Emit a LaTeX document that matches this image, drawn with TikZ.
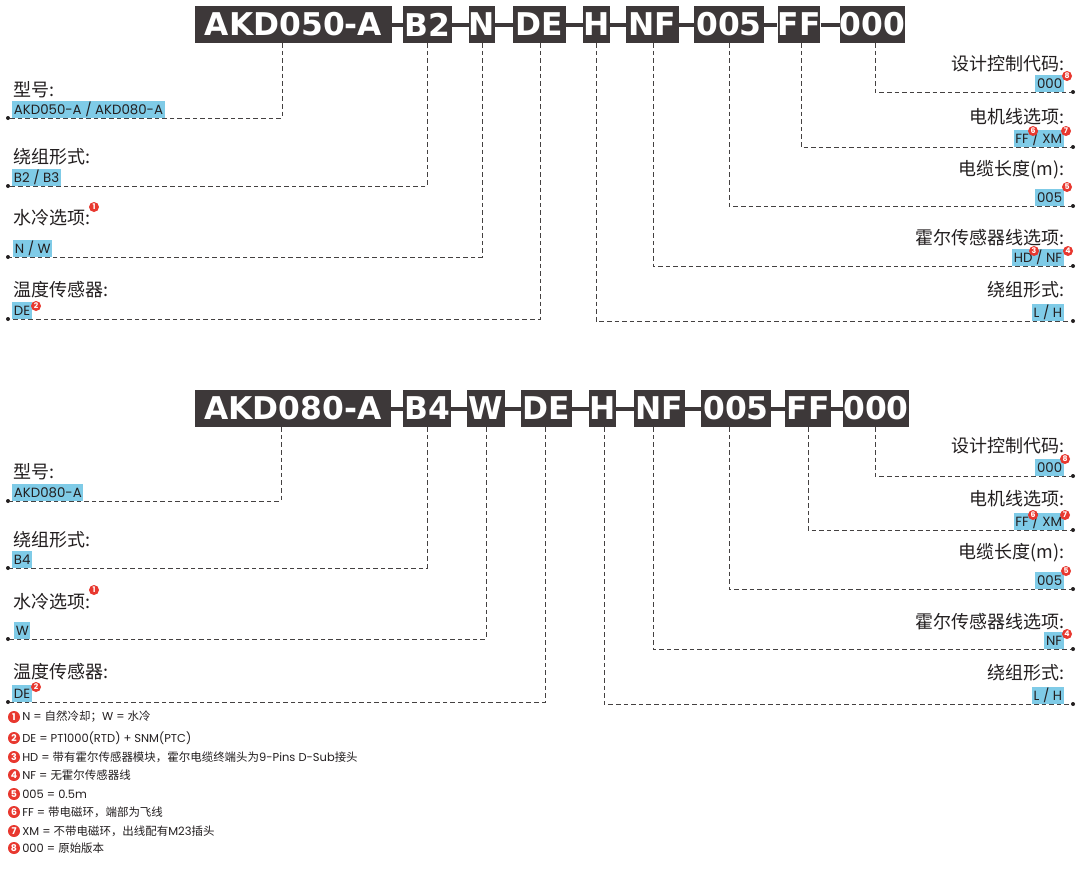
\documentclass[tikz,border=0pt]{standalone}
\usepackage{fontspec}
\setmainfont{Poppins}
\newfontfamily\zh{Noto Sans CJK SC}
\newfontfamily\codefont{DejaVu Sans}
\usetikzlibrary{positioning}

\definecolor{codegray}{HTML}{3D3839}
\definecolor{valblue}{HTML}{7FCBE7}
\definecolor{markred}{HTML}{E8382F}
\definecolor{inkgray}{HTML}{231F20}

\tikzset{
  codebox/.style={fill=codegray, text=white, inner sep=0pt, minimum height=27.75pt,
    font=\codefont\bfseries\fontsize{23.5}{24}\selectfont},
  codesep/.style={codegray, line width=3pt},
  leader/.style={draw=inkgray!85, line width=0.75pt, dash pattern=on 3.4pt off 2.3pt},
  fieldname/.style={inner sep=0pt, text=inkgray, font=\zh\fontsize{13.5}{15}\selectfont},
  fieldval/.style={fill=valblue, text=inkgray, inner xsep=1.2pt, inner ysep=0pt,
    minimum height=12.5pt, font=\fontsize{10}{11}\selectfont},
  refdot/.style={circle, fill=markred, text=white, inner sep=0pt, minimum size=7.5pt,
    font=\bfseries\fontsize{5.8}{6}\selectfont},
  notedot/.style={circle, fill=markred, text=white, inner sep=0pt, minimum size=9pt,
    font=\bfseries\fontsize{7}{7}\selectfont},
  enddot/.style={circle, fill=inkgray, inner sep=0pt, minimum size=3pt},
  notetext/.style={anchor=west, inner sep=0pt, text=inkgray, font=\fontsize{8.6}{10}\selectfont}
}

\begin{document}
\begin{tikzpicture}[x=0.75pt, y=-0.75pt]
  \fill[white] (0,0) rectangle (1084,871);
  \useasboundingbox (0,0) rectangle (1084,871);

  % ---------------- upper code: AKD050-A ----------------
  \node[codebox, minimum width=147.75pt] (topModel) at (293.5,24.5) {AKD050-A};
  \node[codebox, minimum width=36.75pt] (topWind) at (427.5,24.5) {B2};
  \node[codebox, minimum width=19.5pt] (topCool) at (482,24.5) {N};
  \node[codebox, minimum width=39.75pt] (topTemp) at (539.5,24.5) {DE};
  \node[codebox, minimum width=18.75pt] (topLH) at (596.5,24.5) {H};
  \node[codebox, minimum width=39.75pt] (topHall) at (652.5,24.5) {NF};
  \node[codebox, minimum width=52.5pt] (topLen) at (729,24.5) {005};
  \node[codebox, minimum width=31.5pt] (topCable) at (799,24.5) {FF};
  \node[codebox, minimum width=48.75pt] (topRev) at (872.5,24.5) {000};
  \draw[codesep] (topModel.east) -- (topWind.west);
  \draw[codesep] (topWind.east) -- (topCool.west);
  \draw[codesep] (topCool.east) -- (topTemp.west);
  \draw[codesep] (topTemp.east) -- (topLH.west);
  \draw[codesep] (topLH.east) -- (topHall.west);
  \draw[codesep] (topHall.east) -- (topLen.west);
  \draw[codesep] (topLen.east) -- (topCable.west);
  \draw[codesep] (topCable.east) -- (topRev.west);

  % line ends
  \node[enddot] (topModelEnd) at (8,118) {};
  \node[enddot] (topWindEnd) at (8,186) {};
  \node[enddot] (topCoolEnd) at (8,257) {};
  \node[enddot] (topTempEnd) at (8,319) {};
  \node[enddot] (topLHEnd) at (1073,321) {};
  \node[enddot] (topHallEnd) at (1073,266) {};
  \node[enddot] (topLenEnd) at (1073,206) {};
  \node[enddot] (topCableEnd) at (1073,147) {};
  \node[enddot] (topRevEnd) at (1073,92) {};
  \draw[leader] (topModel.south -| 282,0) |- (topModelEnd);
  \draw[leader] (topWind.south -| 427,0) |- (topWindEnd);
  \draw[leader] (topCool.south -| 482,0) |- (topCoolEnd);
  \draw[leader] (topTemp.south -| 540,0) |- (topTempEnd);
  \draw[leader] (topLH.south -| 596,0) |- (topLHEnd);
  \draw[leader] (topHall.south -| 653,0) |- (topHallEnd);
  \draw[leader] (topLen.south -| 729,0) |- (topLenEnd);
  \draw[leader] (topCable.south -| 801,0) |- (topCableEnd);
  \draw[leader] (topRev.south -| 875,0) |- (topRevEnd);

  % left fields
  \node[fieldname, anchor=west] (topModelName) at (13,90) {型号:};
  \node[fieldval, anchor=south west] (topModelVal) at (12,118) {AKD050-A / AKD080-A};
  \node[fieldname, anchor=west] (topWindName) at (13,157) {绕组形式:};
  \node[fieldval, anchor=south west] (topWindVal) at (12,186) {B2 / B3};
  \node[fieldname, anchor=west] (topCoolName) at (13,218) {水冷选项:};
  \node[fieldval, anchor=south west] (topCoolVal) at (13,257) {N / W};
  \node[fieldname, anchor=west] (topTempName) at (13,290) {温度传感器:};
  \node[fieldval, anchor=south west] (topTempVal) at (12,319) {DE};
  \node[refdot] at (94,207) {1};
  \node[refdot] at (36,306) {2};

  % right fields
  \node[fieldname, anchor=east] (topRevName) at (1065,64) {设计控制代码:};
  \node[fieldval, anchor=south east] (topRevVal) at (1064,92) {000};
  \node[fieldname, anchor=east] (topCableName) at (1065,117) {电机线选项:};
  \node[fieldval, anchor=south east] (topCableVal) at (1064,147) {FF / XM};
  \node[fieldname, anchor=east] (topLenName) at (1065,170) {电缆长度(m):};
  \node[fieldval, anchor=south east] (topLenVal) at (1064,206) {005};
  \node[fieldname, anchor=east] (topHallName) at (1065,238) {霍尔传感器线选项:};
  \node[fieldval, anchor=south east] (topHallVal) at (1064,266) {HD / NF};
  \node[fieldname, anchor=east] (topLHName) at (1065,290) {绕组形式:};
  \node[fieldval, anchor=south east] (topLHVal) at (1064,321) {L / H};
  \node[refdot] at (1067,76) {8};
  \node[refdot] at (1033,131) {6};
  \node[refdot] at (1066,131) {7};
  \node[refdot] at (1067,187) {5};
  \node[refdot] at (1034,251) {3};
  \node[refdot] at (1068,251) {4};

  % ---------------- lower code: AKD080-A ----------------
  \node[codebox, minimum width=147pt] (botModel) at (293,408.5) {AKD080-A};
  \node[codebox, minimum width=36pt] (botWind) at (427,408.5) {B4};
  \node[codebox, minimum width=28.5pt] (botCool) at (486,408.5) {W};
  \node[codebox, minimum width=38.25pt] (botTemp) at (546.5,408.5) {DE};
  \node[codebox, minimum width=18.75pt] (botLH) at (602.5,408.5) {H};
  \node[codebox, minimum width=38.25pt] (botHall) at (659.5,408.5) {NF};
  \node[codebox, minimum width=52.5pt] (botLen) at (736,408.5) {005};
  \node[codebox, minimum width=34.5pt] (botCable) at (808,408.5) {FF};
  \node[codebox, minimum width=46.5pt] (botRev) at (876,408.5) {000};
  \draw[codesep] (botModel.east) -- (botWind.west);
  \draw[codesep] (botWind.east) -- (botCool.west);
  \draw[codesep] (botCool.east) -- (botTemp.west);
  \draw[codesep] (botTemp.east) -- (botLH.west);
  \draw[codesep] (botLH.east) -- (botHall.west);
  \draw[codesep] (botHall.east) -- (botLen.west);
  \draw[codesep] (botLen.east) -- (botCable.west);
  \draw[codesep] (botCable.east) -- (botRev.west);

  % line ends
  \node[enddot] (botModelEnd) at (8,501) {};
  \node[enddot] (botWindEnd) at (8,568) {};
  \node[enddot] (botCoolEnd) at (8,639) {};
  \node[enddot] (botTempEnd) at (8,702) {};
  \node[enddot] (botLHEnd) at (1073,704) {};
  \node[enddot] (botHallEnd) at (1073,649) {};
  \node[enddot] (botLenEnd) at (1073,589) {};
  \node[enddot] (botCableEnd) at (1073,530) {};
  \node[enddot] (botRevEnd) at (1073,476) {};
  \draw[leader] (botModel.south -| 281,0) |- (botModelEnd);
  \draw[leader] (botWind.south -| 427,0) |- (botWindEnd);
  \draw[leader] (botCool.south -| 486,0) |- (botCoolEnd);
  \draw[leader] (botTemp.south -| 545,0) |- (botTempEnd);
  \draw[leader] (botLH.south -| 604,0) |- (botLHEnd);
  \draw[leader] (botHall.south -| 653,0) |- (botHallEnd);
  \draw[leader] (botLen.south -| 729,0) |- (botLenEnd);
  \draw[leader] (botCable.south -| 808,0) |- (botCableEnd);
  \draw[leader] (botRev.south -| 875,0) |- (botRevEnd);

  % left fields
  \node[fieldname, anchor=west] (botModelName) at (13,472) {型号:};
  \node[fieldval, anchor=south west] (botModelVal) at (12,501) {AKD080-A};
  \node[fieldname, anchor=west] (botWindName) at (13,540) {绕组形式:};
  \node[fieldval, anchor=south west] (botWindVal) at (12,568) {B4};
  \node[fieldname, anchor=west] (botCoolName) at (13,602) {水冷选项:};
  \node[fieldval, anchor=south west] (botCoolVal) at (14,639) {W};
  \node[fieldname, anchor=west] (botTempName) at (13,672) {温度传感器:};
  \node[fieldval, anchor=south west] (botTempVal) at (12,702) {DE};
  \node[refdot] at (94,590) {1};
  \node[refdot] at (36,687) {2};

  % right fields
  \node[fieldname, anchor=east] (botRevName) at (1065,446) {设计控制代码:};
  \node[fieldval, anchor=south east] (botRevVal) at (1064,476) {000};
  \node[fieldname, anchor=east] (botCableName) at (1065,499) {电机线选项:};
  \node[fieldval, anchor=south east] (botCableVal) at (1064,530) {FF / XM};
  \node[fieldname, anchor=east] (botLenName) at (1065,553) {电缆长度(m):};
  \node[fieldval, anchor=south east] (botLenVal) at (1064,589) {005};
  \node[fieldname, anchor=east] (botHallName) at (1065,622) {霍尔传感器线选项:};
  \node[fieldval, anchor=south east] (botHallVal) at (1064,649) {NF};
  \node[fieldname, anchor=east] (botLHName) at (1065,673) {绕组形式:};
  \node[fieldval, anchor=south east] (botLHVal) at (1064,704) {L / H};
  \node[refdot] at (1065,459) {8};
  \node[refdot] at (1033,515) {6};
  \node[refdot] at (1065,515) {7};
  \node[refdot] at (1066,571) {5};
  \node[refdot] at (1067,634) {4};

  % ---------------- notes ----------------
  \node[notedot] at (14,717) {1};
  \node[notetext] at (22,717) {N = {\zh 自然冷却；}W = {\zh 水冷}};
  \node[notedot] at (14,738) {2};
  \node[notetext] at (22,738) {DE = PT1000(RTD) + SNM(PTC)};
  \node[notedot] at (14,757) {3};
  \node[notetext] at (22,757) {HD = {\zh 带有霍尔传感器模块，霍尔电缆终端头为}9-Pins D-Sub{\zh 接头}};
  \node[notedot] at (14,775) {4};
  \node[notetext] at (22,775) {NF = {\zh 无霍尔传感器线}};
  \node[notedot] at (14,794) {5};
  \node[notetext] at (22,794) {005 = 0.5m};
  \node[notedot] at (14,812) {6};
  \node[notetext] at (22,812) {FF = {\zh 带电磁环，端部为飞线}};
  \node[notedot] at (14,831) {7};
  \node[notetext] at (22,831) {XM = {\zh 不带电磁环，出线配有}M23{\zh 插头}};
  \node[notedot] at (14,848) {8};
  \node[notetext] at (22,848) {000 = {\zh 原始版本}};
\end{tikzpicture}
\end{document}
